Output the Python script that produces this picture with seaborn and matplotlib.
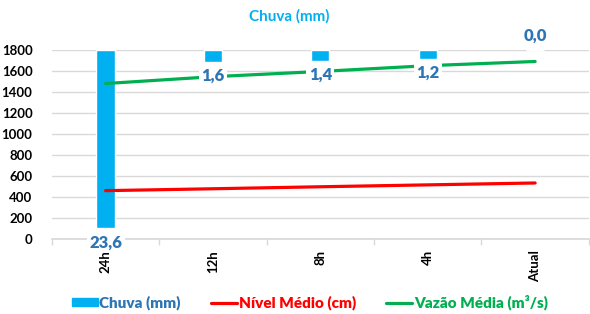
import pandas as pd
import numpy as np
import matplotlib
matplotlib.use("Agg")
import matplotlib.pyplot as plt
import seaborn as sns
from matplotlib.patches import Patch
from matplotlib.lines import Line2D

# data
periods = ["24h", "12h", "8h", "4h", "Atual"]
chuva = [23.6, 1.6, 1.4, 1.2, 0.0]
nivel = [460, 478, 497, 515, 533]
vazao = [1480, 1545, 1595, 1650, 1690]

sns.set_theme(style="white")
plt.rcParams["font.family"] = ["Lato", "DejaVu Sans"]

cyan = "#00B0F0"
red = "#FF0000"
green = "#00B050"
lblue = "#2E75B6"
grid = "#D9D9D9"

df = pd.DataFrame({"periodo": periods, "chuva": chuva, "nivel": nivel, "vazao": vazao})

fig = plt.figure(figsize=(5.9, 3.14), dpi=100)
ax = fig.add_axes([0.088, 0.239, 0.91, 0.602])

# rain bars hang from the top (inverted scale)
sns.barplot(data=df, x="periodo", y="chuva", color=cyan, width=0.17,
            saturation=1, ax=ax, order=periods)
ax.set_ylim(25, 0)
ax.set_xlim(-0.5, 4.5)
ax.set_yticks(np.linspace(0, 25, 10))
ax.set_yticklabels([])
ax.yaxis.grid(True, color=grid, linewidth=1)
ax.set_axisbelow(True)
ax.tick_params(axis="y", length=0)
for s in ["top", "right", "left"]:
    ax.spines[s].set_visible(False)
ax.spines["bottom"].set_color(grid)
ax.set_xlabel("")
ax.set_ylabel("")
ax.set_xticks(range(len(periods)))
ax.set_xticklabels(periods, rotation=90, fontsize=9.5, fontweight="bold", color="black")
ax.set_xticks(np.arange(-0.5, 5, 1), minor=True)
ax.tick_params(axis="x", which="major", length=0, pad=8, bottom=True)
ax.tick_params(axis="x", which="minor", length=4, color=grid, width=1, bottom=True)

# lines on the left scale
ax2 = ax.twinx()
sns.lineplot(data=df, x="periodo", y="nivel", color=red, linewidth=2.3, ax=ax2, sort=False)
sns.lineplot(data=df, x="periodo", y="vazao", color=green, linewidth=2.3, ax=ax2, sort=False)
ax2.set_ylim(0, 1800)
ax2.set_xlim(-0.5, 4.5)
ax2.set_yticks(range(0, 1801, 200))
ax2.yaxis.tick_left()
ax2.yaxis.set_label_position("left")
ax2.tick_params(axis="y", length=0, pad=14)
for t in ax2.get_yticklabels():
    t.set_fontweight("bold")
    t.set_fontsize(9.5)
    t.set_color("black")
ax2.set_ylabel("")
ax2.set_xlabel("")
for s in ["top", "right", "left", "bottom"]:
    ax2.spines[s].set_visible(False)

# rain labels drawn above the lines
for i, v in enumerate(chuva):
    off = -14 if v > 0 else 14
    ax2.annotate(f"{v:.1f}".replace(".", ","), (i, v), xycoords=ax.transData,
                 xytext=(0, off), textcoords="offset pixels",
                 ha="center", va="center", fontsize=12, fontweight="heavy",
                 color=lblue, zorder=5, annotation_clip=False,
                 bbox=dict(boxstyle="square,pad=0.15", fc="white", ec="none"))

fig.text(0.49, 0.947, "Chuva (mm)", ha="center", va="center", color=cyan,
         fontsize=11, fontweight="bold")

handles = [Patch(color=cyan), Line2D([], [], color=red, lw=2.3),
           Line2D([], [], color=green, lw=2.3)]
fig.legend(handles, ["Chuva (mm)", "Nível Médio (cm)", "Vazão Média (m³/s)"],
           loc="center", bbox_to_anchor=(0.525, 0.037), ncol=3, frameon=False,
           labelcolor=[lblue, red, green], prop={"weight": "heavy", "size": 11},
           handlelength=1.7, handletextpad=0.1, columnspacing=2.0, handleheight=0.45)

fig.savefig("out.png", dpi=100)
